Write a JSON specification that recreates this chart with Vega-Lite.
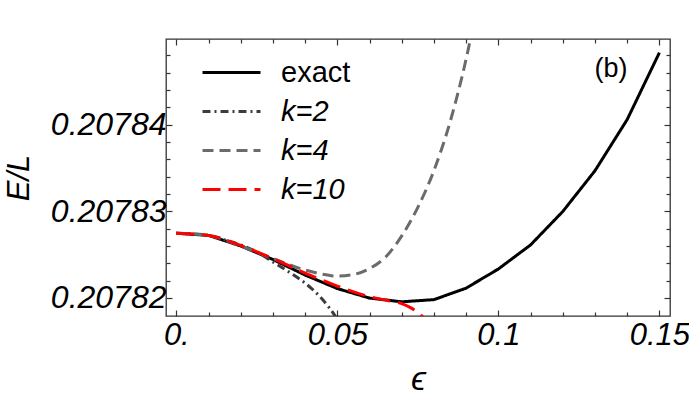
{
  "$schema": "https://vega.github.io/schema/vega-lite/v6.json",
  "width": 504,
  "height": 277,
  "autosize": {"type": "none"},
  "padding": {"left": 166, "top": 39, "right": 19, "bottom": 92},
  "config": {
    "font": "Liberation Sans",
    "view": {"stroke": "#333333", "strokeWidth": 1.3},
    "axis": {"grid": false, "domain": false, "tickColor": "#333333", "tickWidth": 1.2, "labelColor": "black", "titleColor": "black", "labelOverlap": false, "labelFlush": false},
    "legend": {
      "title": null, "orient": "none", "legendX": 35, "legendY": 14, "padding": 0,
      "symbolType": "stroke", "symbolSize": 3364, "symbolStrokeWidth": 3,
      "labelFontSize": 29, "labelOffset": 19, "rowPadding": 0, "clipHeight": 39, "labelColor": "black", "labelFont": "Liberation Sans"
    }
  },
  "datasets": {
    "exact": [
      {"series": "exact", "eps": 0, "E": 0.20782746},
      {"series": "exact", "eps": 0.01, "E": 0.20782721},
      {"series": "exact", "eps": 0.02, "E": 0.20782599},
      {"series": "exact", "eps": 0.03, "E": 0.20782443},
      {"series": "exact", "eps": 0.04, "E": 0.20782263},
      {"series": "exact", "eps": 0.05, "E": 0.20782107},
      {"series": "exact", "eps": 0.06, "E": 0.20781997},
      {"series": "exact", "eps": 0.07, "E": 0.20781954},
      {"series": "exact", "eps": 0.08, "E": 0.20781979},
      {"series": "exact", "eps": 0.09, "E": 0.20782112},
      {"series": "exact", "eps": 0.1, "E": 0.20782333},
      {"series": "exact", "eps": 0.11, "E": 0.20782611},
      {"series": "exact", "eps": 0.12, "E": 0.20782997},
      {"series": "exact", "eps": 0.13, "E": 0.20783468},
      {"series": "exact", "eps": 0.14, "E": 0.20784059},
      {"series": "exact", "eps": 0.15, "E": 0.20784832}
    ],
    "approx": [
      {"series": "k=2", "eps": 0, "E": 0.20782746},
      {"series": "k=2", "eps": 0.005, "E": 0.2078274},
      {"series": "k=2", "eps": 0.01, "E": 0.20782721},
      {"series": "k=2", "eps": 0.015, "E": 0.20782669},
      {"series": "k=2", "eps": 0.02, "E": 0.20782611},
      {"series": "k=2", "eps": 0.025, "E": 0.2078253},
      {"series": "k=2", "eps": 0.03, "E": 0.20782414},
      {"series": "k=2", "eps": 0.035, "E": 0.20782298},
      {"series": "k=2", "eps": 0.04, "E": 0.2078217},
      {"series": "k=2", "eps": 0.045, "E": 0.20781997},
      {"series": "k=2", "eps": 0.05, "E": 0.20781753},
      {"series": "k=2", "eps": 0.055, "E": 0.20781429},
      {"series": "k=4", "eps": 0, "E": 0.20782746},
      {"series": "k=4", "eps": 0.01, "E": 0.20782721},
      {"series": "k=4", "eps": 0.02, "E": 0.20782599},
      {"series": "k=4", "eps": 0.03, "E": 0.20782454},
      {"series": "k=4", "eps": 0.04, "E": 0.20782321},
      {"series": "k=4", "eps": 0.045, "E": 0.20782275},
      {"series": "k=4", "eps": 0.05, "E": 0.20782251},
      {"series": "k=4", "eps": 0.055, "E": 0.20782269},
      {"series": "k=4", "eps": 0.06, "E": 0.20782338},
      {"series": "k=4", "eps": 0.065, "E": 0.20782472},
      {"series": "k=4", "eps": 0.07, "E": 0.20782715},
      {"series": "k=4", "eps": 0.075, "E": 0.20783045},
      {"series": "k=4", "eps": 0.08, "E": 0.20783470},
      {"series": "k=4", "eps": 0.085, "E": 0.20784030},
      {"series": "k=4", "eps": 0.09, "E": 0.20784760},
      {"series": "k=4", "eps": 0.0925, "E": 0.20785200},
      {"series": "k=10", "eps": 0, "E": 0.20782746},
      {"series": "k=10", "eps": 0.01, "E": 0.20782721},
      {"series": "k=10", "eps": 0.02, "E": 0.20782605},
      {"series": "k=10", "eps": 0.03, "E": 0.20782454},
      {"series": "k=10", "eps": 0.04, "E": 0.20782286},
      {"series": "k=10", "eps": 0.05, "E": 0.20782136},
      {"series": "k=10", "eps": 0.06, "E": 0.20782014},
      {"series": "k=10", "eps": 0.065, "E": 0.20781973},
      {"series": "k=10", "eps": 0.07, "E": 0.20781933},
      {"series": "k=10", "eps": 0.073, "E": 0.20781881},
      {"series": "k=10", "eps": 0.076, "E": 0.207818},
      {"series": "k=10", "eps": 0.078, "E": 0.20781718}
    ],
    "ann": [{"x": 0.135, "y": 0.20784638, "t": "(b)"}]
  },
  "layer": [
    {
      "data": {"name": "exact"},
      "mark": {"type": "line", "clip": true, "strokeCap": "butt"},
      "encoding": {
        "x": {
          "field": "eps", "type": "quantitative",
          "scale": {"domain": [-0.0032, 0.1533], "nice": false, "zero": false},
          "axis": {
            "orient": "bottom",
            "values": [0, 0.01, 0.02, 0.03, 0.04, 0.05, 0.06, 0.07, 0.08, 0.09, 0.1, 0.11, 0.12, 0.13, 0.14, 0.15],
            "labelExpr": "abs(datum.value*20 - round(datum.value*20)) < 1e-6 ? (datum.value == 0 ? '0.' : format(datum.value, '~g')) : ''",
            "tickSize": {"condition": {"test": "abs(datum.value*20 - round(datum.value*20)) < 1e-6", "value": -6}, "value": -4},
            "labelFontSize": 31, "labelFontStyle": "italic", "labelPadding": 10,
            "title": "ϵ", "titleFontSize": 34, "titleFontStyle": "italic", "titleFontWeight": "normal", "titlePadding": 10
          }
        },
        "y": {
          "field": "E", "type": "quantitative",
          "scale": {"domain": [0.2078179, 0.2078499], "nice": false, "zero": false},
          "axis": {
            "orient": "left",
            "values": [0.20782, 0.207822, 0.207824, 0.207826, 0.207828, 0.20783, 0.207832, 0.207834, 0.207836, 0.207838, 0.20784, 0.207842, 0.207844, 0.207846, 0.207848],
            "labelExpr": "abs(datum.value*1e5 - round(datum.value*1e5)) < 1e-4 ? format(datum.value, '.5f') : ''",
            "tickSize": {"condition": {"test": "abs(datum.value*1e5 - round(datum.value*1e5)) < 1e-4", "value": -6}, "value": -4},
            "labelFontSize": 32, "labelFontStyle": "italic", "labelPadding": 6,
            "title": "E/L", "titleFontSize": 31, "titleFontStyle": "italic", "titleFontWeight": "normal", "titlePadding": 15
          }
        },
        "color": {
          "field": "series", "type": "nominal",
          "scale": {"domain": ["exact", "k=2", "k=4", "k=10"], "range": ["#000000", "#3c3c3c", "#6b6b6b", "#ff0000"]},
          "legend": {"encode": {"labels": {"update": {"fontStyle": {"signal": "datum.value == 'exact' ? 'normal' : 'italic'"}}}}}
        },
        "strokeDash": {
          "field": "series", "type": "nominal",
          "scale": {"domain": ["exact", "k=2", "k=4", "k=10"], "range": [[1, 0], [8, 4, 2, 4], [11, 6], [18, 8]]},
          "legend": {"encode": {"labels": {"update": {"fontStyle": {"signal": "datum.value == 'exact' ? 'normal' : 'italic'"}}}}}
        },
        "strokeWidth": {
          "field": "series", "type": "nominal",
          "scale": {"domain": ["exact", "k=2", "k=4", "k=10"], "range": [3, 3, 3, 4.5]},
          "legend": {"encode": {"labels": {"update": {"fontStyle": {"signal": "datum.value == 'exact' ? 'normal' : 'italic'"}}}}}
        }
      }
    },
    {
      "data": {"name": "approx"},
      "mark": {"type": "line", "clip": true, "strokeCap": "butt", "interpolate": "monotone"},
      "encoding": {
        "x": {"field": "eps", "type": "quantitative", "axis": null},
        "y": {"field": "E", "type": "quantitative", "axis": null},
        "color": {"field": "series", "type": "nominal"},
        "strokeDash": {"field": "series", "type": "nominal"},
        "strokeWidth": {"field": "series", "type": "nominal"}
      }
    },
    {
      "data": {"name": "exact"},
      "mark": {"type": "point", "opacity": 0},
      "encoding": {
        "x": {
          "field": "eps", "type": "quantitative",
          "axis": {
            "orient": "top", "labels": false, "title": null,
            "values": [0, 0.01, 0.02, 0.03, 0.04, 0.05, 0.06, 0.07, 0.08, 0.09, 0.1, 0.11, 0.12, 0.13, 0.14, 0.15],
            "tickSize": {"condition": {"test": "abs(datum.value*20 - round(datum.value*20)) < 1e-6", "value": -6}, "value": -4}
          }
        },
        "y": {
          "field": "E", "type": "quantitative",
          "axis": {
            "orient": "right", "labels": false, "title": null,
            "values": [0.20782, 0.207822, 0.207824, 0.207826, 0.207828, 0.20783, 0.207832, 0.207834, 0.207836, 0.207838, 0.20784, 0.207842, 0.207844, 0.207846, 0.207848],
            "tickSize": {"condition": {"test": "abs(datum.value*1e5 - round(datum.value*1e5)) < 1e-4", "value": -6}, "value": -4}
          }
        }
      }
    },
    {
      "data": {"name": "ann"},
      "mark": {"type": "text", "fontSize": 27, "color": "black"},
      "encoding": {
        "x": {"field": "x", "type": "quantitative", "axis": null},
        "y": {"field": "y", "type": "quantitative", "axis": null},
        "text": {"field": "t"}
      }
    }
  ],
  "resolve": {"axis": {"x": "independent", "y": "independent"}}
}
